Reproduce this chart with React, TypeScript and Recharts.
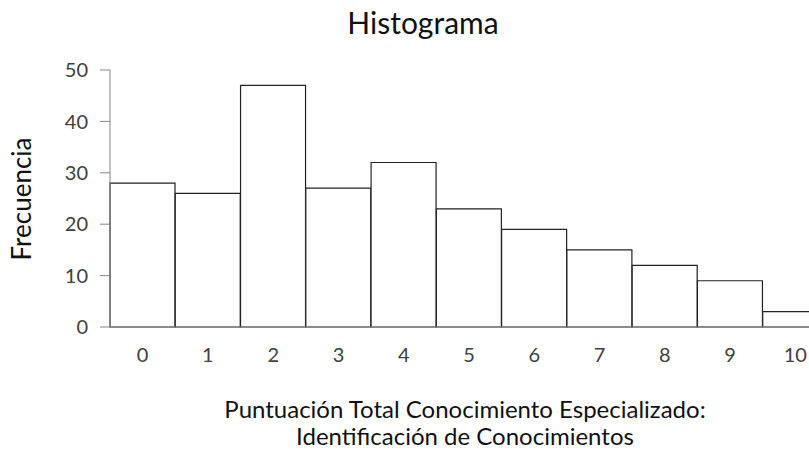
import { BarChart, Bar, XAxis, YAxis } from 'recharts'

const scores = ['0', '1', '2', '3', '4', '5', '6', '7', '8', '9', '10']
const frequencies = [28, 26, 47, 27, 32, 23, 19, 15, 12, 9, 3]
const yTicks = [0, 10, 20, 30, 40, 50]

const data = scores.map((s, i) => ({ score: s, freq: frequencies[i] }))

const font = 'Lato, "Open Sans", sans-serif'
const textColor = '#404040'

const xTitleStyle = {
  position: 'absolute' as const, left: 0, width: 930, textAlign: 'center' as const,
  fontSize: 24, lineHeight: '24px', color: '#111', whiteSpace: 'nowrap' as const,
}

export default function App() {
  return (
    <div
      style={{
        position: 'absolute', left: 0, top: 0, width: 809, height: 452,
        overflow: 'hidden', background: '#fff', fontFamily: font,
      }}
    >
      <div style={{ position: 'absolute', left: 0, width: 846, top: 7, textAlign: 'center', fontSize: 30, lineHeight: '30px', color: '#111' }}>
        Histograma
      </div>
      <div
        style={{
          position: 'absolute', left: 21, top: 199, fontSize: 26, lineHeight: '26px', color: '#111',
          transform: 'translate(-50%, -50%) rotate(-90deg)', whiteSpace: 'nowrap',
        }}
      >
        Frecuencia
      </div>
      <div style={{ ...xTitleStyle, top: 397 }}>Puntuación Total Conocimiento Especializado:</div>
      <div style={{ ...xTitleStyle, top: 424 }}>Identificación de Conocimientos</div>
      <BarChart
        width={840}
        height={452}
        data={data}
        margin={{ top: 70, right: 12, bottom: 95, left: 0 }}
        barCategoryGap={0}
        style={{ position: 'absolute', left: 0, top: 0 }}
      >
        <XAxis
          dataKey="score"
          height={30}
          tickLine={false}
          tickSize={0}
          tickMargin={21}
          axisLine={{ stroke: '#868686' }}
          tick={{ fill: textColor, fontSize: 20, fontFamily: font }}
        />
        <YAxis
          width={110}
          domain={[0, 50]}
          ticks={yTicks}
          tickSize={10}
          tickMargin={12}
          axisLine={{ stroke: '#868686' }}
          tickLine={{ stroke: '#868686' }}
          tick={{ fill: textColor, fontSize: 20, fontFamily: font }}
        />
        <Bar dataKey="freq" fill="#ffffff" stroke="#222222" strokeWidth={1.2} isAnimationActive={false} />
      </BarChart>
    </div>
  )
}
